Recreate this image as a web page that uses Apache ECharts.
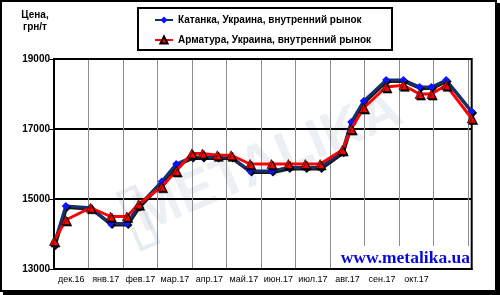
<!DOCTYPE html>
<html><head><meta charset="utf-8">
<script src="https://cdn.jsdelivr.net/npm/echarts@6/dist/echarts.min.js"></script>
<style>html,body{margin:0;padding:0;background:#fff}#c{width:500px;height:295px}</style>
</head><body><div id="c"></div>
<script>
var monthLabels = ['дек.16','янв.17','фев.17','мар.17','апр.17','май.17','июн.17','июл.17','авг.17','сен.17','окт.17'];
// x position in months from 1 Dec 2016
var xPos = [0, 0.34, 1.06, 1.64, 2.11, 2.45, 3.12, 3.54, 3.99, 4.30, 4.73, 5.13, 5.68, 6.30, 6.79, 7.28, 7.71, 8.35, 8.61, 8.97, 9.62, 10.12, 10.59, 10.93, 11.36, 12.1];
var katanka = [13700, 14800, 14750, 14300, 14300, 14800, 15500, 16000, 16200, 16200, 16200, 16200, 15800, 15800, 15900, 15900, 15900, 16350, 17200, 17800, 18400, 18400, 18200, 18200, 18400, 17500];
var armatura = [13800, 14400, 14750, 14500, 14500, 14850, 15350, 15800, 16300, 16300, 16250, 16250, 16000, 16000, 16000, 16000, 16000, 16400, 17000, 17600, 18200, 18250, 18000, 18000, 18250, 17300];
var names = ['Катанка, Украина, внутренний рынок', 'Арматура, Украина, внутренний рынок'];

var F = 'Liberation Sans, Arial, sans-serif';
function pairs(ys){ return xPos.map(function(x,i){ return [x, ys[i]]; }); }
var labelVals = monthLabels.map(function(_,i){ return i + 0.5; });

var chart = echarts.init(document.getElementById('c'), null, {renderer:'canvas'});
chart.setOption({
  animation: false,
  backgroundColor: 'transparent',
  grid: {left: 54, top: 59, right: 28.3, bottom: 26, show: true, borderColor: '#000', borderWidth: 2, z: 3},
  legend: {
    orient: 'vertical', left: 149, top: 10, itemWidth: 18, itemHeight: 9, itemGap: 10,
    data: names,
    textStyle: {fontFamily: F, fontSize: 10, fontWeight: 'bold', color: '#000'}
  },
  xAxis: [{
    type: 'value', min: 0, max: 12.1, interval: 1,
    axisLine: {show: true, lineStyle: {color: '#000', width: 2}},
    axisTick: {show: false}, axisLabel: {show: false},
    splitLine: {show: true, lineStyle: {color: '#8c8c8c', width: 1}}
  }, {
    type: 'value', min: 0, max: 12.1, position: 'bottom',
    axisLine: {show: false}, axisTick: {show: false}, splitLine: {show: false},
    axisLabel: {
      show: true, customValues: labelVals, margin: 6,
      fontFamily: F, fontSize: 9, color: '#000',
      formatter: function(v){ return monthLabels[Math.floor(v)] || ''; }
    }
  }],
  yAxis: {
    type: 'value', min: 13000, max: 19000, interval: 2000,
    axisLine: {show: true, lineStyle: {color: '#000', width: 2}},
    axisTick: {show: true, length: 5, lineStyle: {color: '#000', width: 1}},
    axisLabel: {fontFamily: F, fontSize: 10, fontWeight: 'bold', color: '#000', margin: 4,
      formatter: function(v){ return String(v); }},
    splitLine: {show: true, lineStyle: {color: '#000', width: 2}}
  },
  graphic: [
    {type: 'rect', z: -10, silent: true, shape: {x: 3, y: 3, width: 497, height: 292}, style: {fill: '#000'}},
    {type: 'rect', z: -9, silent: true, shape: {x: 1, y: 1, width: 495, height: 290}, style: {fill: '#fff', stroke: '#000', lineWidth: 2}},
    {type: 'text', z: -8, silent: true, x: 268, y: 163, rotation: 0.4, style: {
      text: 'METALIKA', fontFamily: F, fontSize: 56, fontWeight: 'bold', fill: 'rgba(170,185,200,0.22)',
      align: 'center', verticalAlign: 'middle'}},
    {type: 'rect', z: -8, silent: true, x: 268, y: 163, rotation: 0.4, shape: {x: -150, y: -30, width: 18, height: 60}, style: {fill: 'none', stroke: 'rgba(170,185,200,0.28)', lineWidth: 4}},
    {type: 'text', z: 1, silent: true, x: 35, y: 9, style: {
      text: 'Цена,\nгрн/т', fontFamily: F, fontSize: 10, fontWeight: 'bold', fill: '#000', align: 'center', verticalAlign: 'top', lineHeight: 12}},
    {type: 'rect', z: 1, silent: true, shape: {x: 138, y: 8, width: 254, height: 42}, style: {fill: '#fff', stroke: '#000', lineWidth: 2}},
    {type: 'rect', z: 5, silent: true, shape: {x: 337, y: 246, width: 133, height: 22}, style: {fill: '#fff'}},
    {type: 'text', z: 6, silent: true, x: 470, y: 258, style: {
      text: 'www.metalika.ua', fontFamily: 'Liberation Serif, Times New Roman, serif', fontSize: 17.5, fontWeight: 'bold',
      fill: '#0a0ad8', align: 'right', verticalAlign: 'middle'}}
  ],
  series: [{
    name: names[0], type: 'line', xAxisIndex: 0, data: pairs(katanka), z: 4,
    symbol: 'diamond', symbolSize: 8,
    lineStyle: {color: '#16306e', width: 3, shadowColor: 'rgba(0,0,0,0.9)', shadowOffsetX: 1, shadowOffsetY: 1.5},
    itemStyle: {color: '#0a14ff', shadowColor: '#000', shadowOffsetX: 1.5, shadowOffsetY: 1.5},
    clip: false
  }, {
    name: names[1], type: 'line', xAxisIndex: 0, data: pairs(armatura), z: 5,
    symbol: 'triangle', symbolSize: 9,
    lineStyle: {color: '#ff0000', width: 3},
    itemStyle: {color: '#ff0000', borderColor: '#000', borderWidth: 0.6, shadowColor: '#000', shadowOffsetX: 1.5, shadowOffsetY: 1.5},
    clip: false
  }]
});
</script></body></html>
